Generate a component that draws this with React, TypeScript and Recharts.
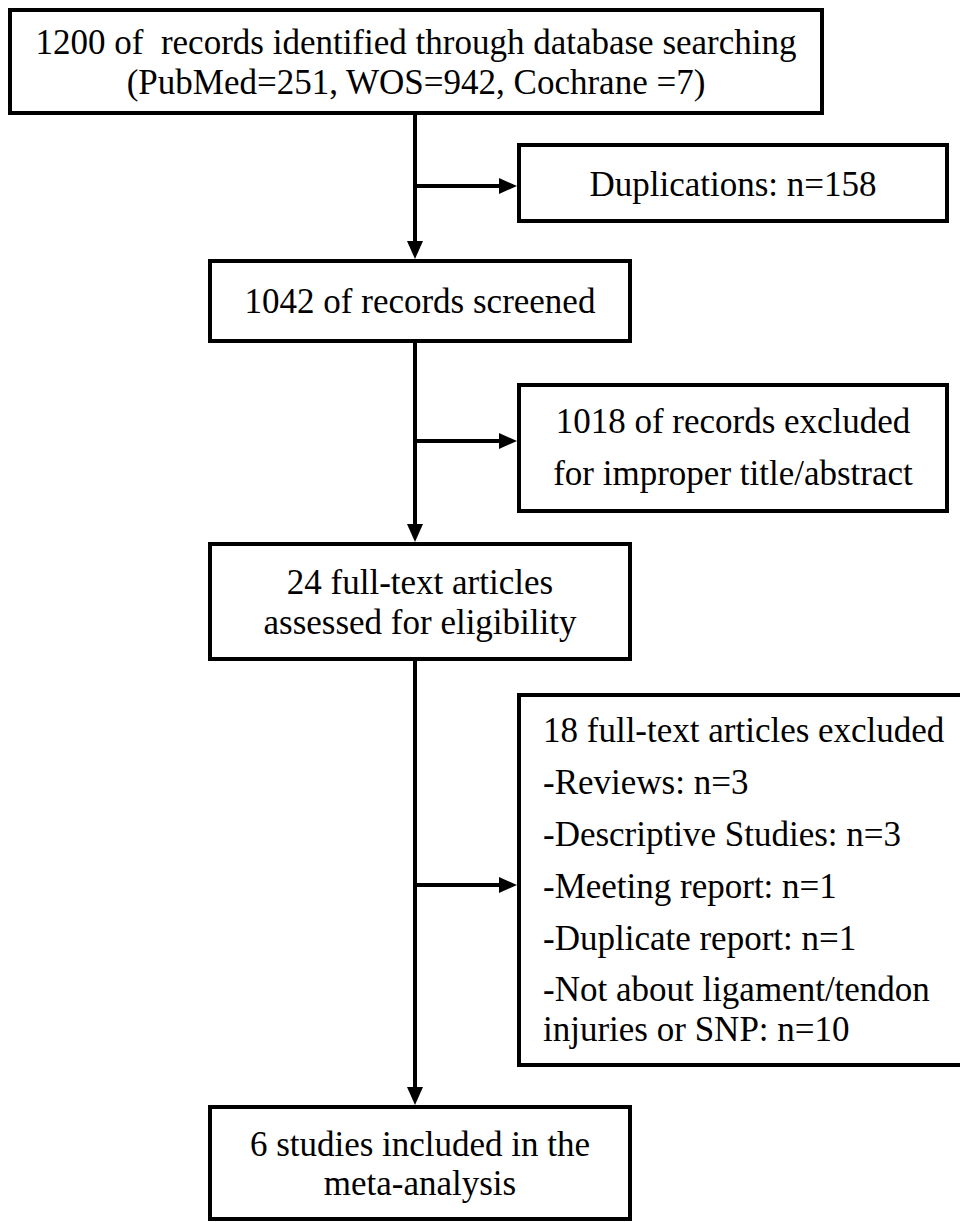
import React from "react";
import { ScatterChart, Scatter, XAxis, YAxis, ReferenceArea, ReferenceLine } from "recharts";

// box texts
const identified = ["1200 of  records identified through database searching", "(PubMed=251, WOS=942, Cochrane =7)"];
const duplicates = ["Duplications: n=158"];
const screened = ["1042 of records screened"];
const excludedScreen = ["1018 of records excluded", "for improper title/abstract"];
const eligible = ["24 full-text articles", "assessed for eligibility"];
const excludedFull = [
  "18 full-text articles excluded",
  "-Reviews: n=3",
  "-Descriptive Studies: n=3",
  "-Meeting report: n=1",
  "-Duplicate report: n=1",
  "-Not about ligament/tendon",
  "injuries or SNP: n=10",
];
const included = ["6 studies included in the", "meta-analysis"];

const W = 960;
const H = 1222;
const FONT = '"Liberation Serif", "Times New Roman", Times, serif';

// layout of the flow boxes (chart coordinates)
const boxes = [
  { lines: identified, x1: 10, y1: 10, x2: 822, y2: 113, anchor: "middle", baselines: [54, 94] },
  { lines: duplicates, x1: 519, y1: 145, x2: 947, y2: 221, anchor: "middle", baselines: [196] },
  { lines: screened, x1: 210, y1: 261, x2: 630, y2: 341, anchor: "middle", baselines: [313] },
  { lines: excludedScreen, x1: 519, y1: 385, x2: 947, y2: 511, anchor: "middle", baselines: [433, 485] },
  { lines: eligible, x1: 210, y1: 544, x2: 630, y2: 659, anchor: "middle", baselines: [594, 634] },
  { lines: excludedFull, x1: 519, y1: 695, x2: 966, y2: 1065, anchor: "start", textX: 543, baselines: [742, 794, 846, 898, 950, 1001, 1041] },
  { lines: included, x1: 210, y1: 1107, x2: 630, y2: 1219, anchor: "middle", baselines: [1156, 1195] },
];

const connectors = [
  { from: [415, 113], to: [415, 259] },
  { from: [415, 186], to: [517, 186] },
  { from: [415, 341], to: [415, 542] },
  { from: [415, 441], to: [517, 441] },
  { from: [415, 659], to: [415, 1105] },
  { from: [415, 885], to: [517, 885] },
];

const textPoints = boxes.flatMap((b) =>
  b.lines.map((text, i) => ({
    x: b.anchor === "middle" ? (b.x1 + b.x2) / 2 : (b.textX as number),
    y: b.baselines[i],
    text,
    anchor: b.anchor,
  }))
);

const Arrow = (props: any) => {
  const { x1, y1, x2, y2 } = props;
  const dx = x2 - x1;
  const dy = y2 - y1;
  const len = Math.sqrt(dx * dx + dy * dy) || 1;
  const ux = dx / len;
  const uy = dy / len;
  const hl = 18;
  const hw = 8;
  const bx = x2 - ux * hl;
  const by = y2 - uy * hl;
  const pts = `${x2},${y2} ${bx - uy * hw},${by + ux * hw} ${bx + uy * hw},${by - ux * hw}`;
  return (
    <g>
      <line x1={x1} y1={y1} x2={bx + ux * 2} y2={by + uy * 2} stroke="#000" strokeWidth={4} />
      <polygon points={pts} fill="#000" />
    </g>
  );
};

const Label = (props: any) => {
  const { cx, cy, payload } = props;
  return (
    <text
      x={cx}
      y={cy}
      textAnchor={payload.anchor}
      fontSize={35}
      fill="#000"
      style={{ fontFamily: FONT, whiteSpace: "pre" }}
    >
      {payload.text}
    </text>
  );
};

export default function App() {
  return (
    <div style={{ position: "absolute", left: 0, top: 0, width: W, height: H, background: "#fff", fontFamily: FONT }}>
      <ScatterChart width={W} height={H} margin={{ top: 0, right: 0, bottom: 0, left: 0 }}>
        <XAxis type="number" dataKey="x" domain={[0, W]} hide allowDataOverflow />
        <YAxis type="number" dataKey="y" domain={[0, H]} reversed hide allowDataOverflow />
        {boxes.map((b, i) => (
          <ReferenceArea
            key={`box-${i}`}
            x1={b.x1}
            x2={b.x2}
            y1={b.y1}
            y2={b.y2}
            fill="#fff"
            fillOpacity={1}
            stroke="#000"
            strokeWidth={4}
            ifOverflow="visible"
          />
        ))}
        {connectors.map((c, i) => (
          <ReferenceLine
            key={`arrow-${i}`}
            segment={[
              { x: c.from[0], y: c.from[1] },
              { x: c.to[0], y: c.to[1] },
            ]}
            ifOverflow="visible"
            shape={(p: any) => <Arrow {...p} />}
          />
        ))}
        <Scatter data={textPoints} isAnimationActive={false} shape={(p: any) => <Label {...p} />} />
      </ScatterChart>
    </div>
  );
}
